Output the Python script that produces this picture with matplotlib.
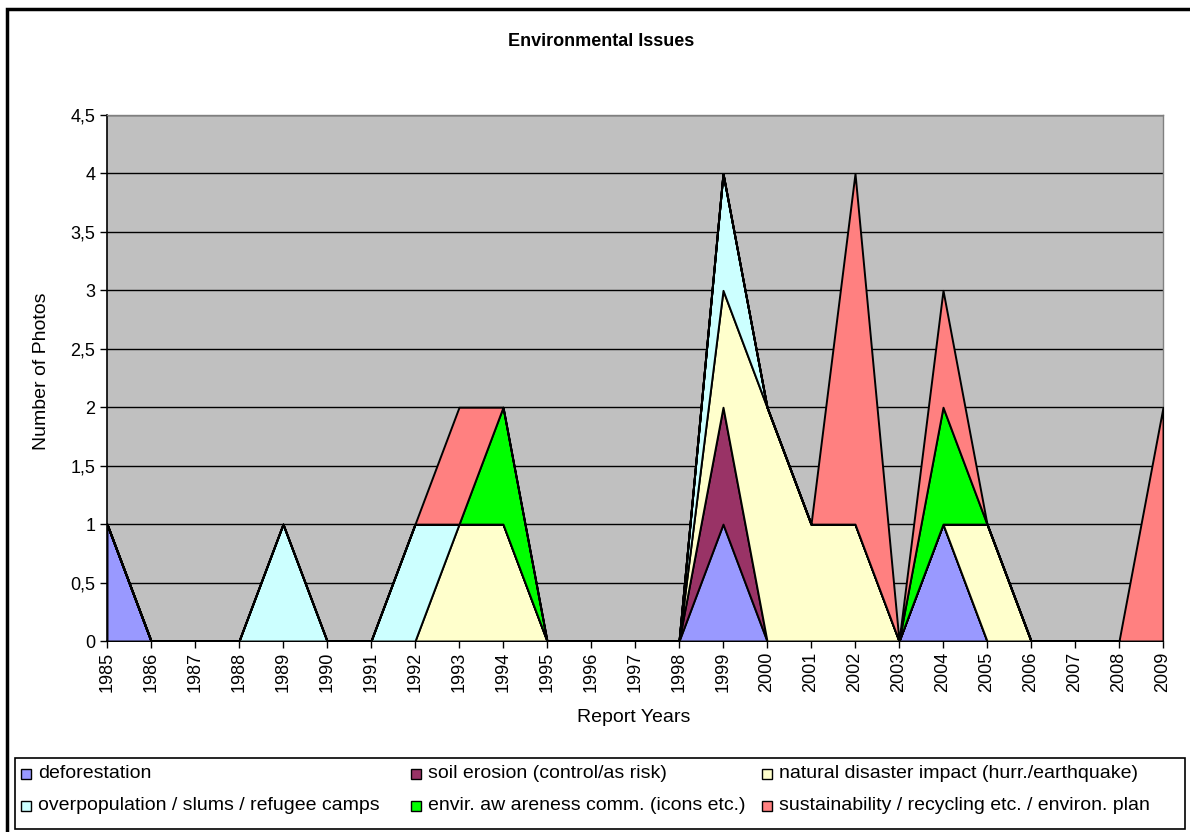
import matplotlib

matplotlib.use("Agg")
import matplotlib.pyplot as plt  # noqa: E402
from matplotlib.patches import Rectangle  # noqa: E402
from matplotlib.ticker import FuncFormatter, MultipleLocator  # noqa: E402

plt.rcParams["font.family"] = ["Liberation Sans", "DejaVu Sans"]

years = list(range(1985, 2010))

# photos per report year, one list per category (stack order bottom -> top)
deforestation = [1, 0, 0, 0, 0, 0, 0, 0, 0, 0, 0, 0, 0, 0, 1, 0, 0, 0, 0, 1, 0, 0, 0, 0, 0]
soil_erosion = [0, 0, 0, 0, 0, 0, 0, 0, 0, 0, 0, 0, 0, 0, 1, 0, 0, 0, 0, 0, 0, 0, 0, 0, 0]
natural_disaster = [0, 0, 0, 0, 0, 0, 0, 0, 1, 1, 0, 0, 0, 0, 1, 2, 1, 1, 0, 0, 1, 0, 0, 0, 0]
overpopulation = [0, 0, 0, 0, 1, 0, 0, 1, 0, 0, 0, 0, 0, 0, 1, 0, 0, 0, 0, 0, 0, 0, 0, 0, 0]
awareness = [0, 0, 0, 0, 0, 0, 0, 0, 0, 1, 0, 0, 0, 0, 0, 0, 0, 0, 0, 1, 0, 0, 0, 0, 0]
sustainability = [0, 0, 0, 0, 0, 0, 0, 0, 1, 0, 0, 0, 0, 0, 0, 0, 0, 3, 0, 1, 0, 0, 0, 0, 2]

series = [
    ("deforestation", deforestation, "#9999FF"),
    ("soil erosion (control/as risk)", soil_erosion, "#993366"),
    ("natural disaster impact (hurr./earthquake)", natural_disaster, "#FFFFCC"),
    ("overpopulation / slums / refugee camps", overpopulation, "#CCFFFF"),
    ("envir. aw areness comm. (icons etc.)", awareness, "#00FF00"),
    ("sustainability / recycling etc. / environ. plan", sustainability, "#FF8080"),
]

W, H = 1190, 832
fig = plt.figure(figsize=(W / 100, H / 100), dpi=100)
ax = fig.add_axes([107 / W, 1 - 641 / H, (1163 - 107) / W, (641 - 115) / H])
ax.set_facecolor("#C0C0C0")

ax.stackplot(
    years,
    [s[1] for s in series],
    colors=[s[2] for s in series],
    edgecolor="black",
    linewidth=1.4,
    zorder=3,
)

ax.set_xlim(1985, 2009)
ax.set_ylim(0, 4.5)
ax.yaxis.set_major_locator(MultipleLocator(0.5))
ax.yaxis.set_major_formatter(FuncFormatter(lambda v, _: f"{v:g}".replace(".", ",")))
ax.set_xticks(years)
ax.set_xticklabels([str(y) for y in years], rotation=90, fontsize=13)
ax.tick_params(axis="y", labelsize=13, direction="out", length=5, width=1)
ax.tick_params(axis="x", direction="out", length=5, width=1, pad=3)
ax.grid(axis="y", color="black", linewidth=1, zorder=1)
ax.set_axisbelow(True)

for side in ("left", "bottom"):
    ax.spines[side].set_color("black")
    ax.spines[side].set_linewidth(1.2)
for side in ("top", "right"):
    ax.spines[side].set_color("#808080")
    ax.spines[side].set_linewidth(1)

fig.text(601 / W, 1 - 42 / H, "Environmental Issues", ha="center", va="center",
         fontsize=13, fontweight="bold")
fig.text(42 / W, 1 - 371 / H, "Number of Photos", rotation=90, ha="center",
         va="center", fontsize=14)
fig.text(634 / W, 1 - 717 / H, "Report Years", ha="center", va="center",
         fontsize=14)

# outer chart border
fig.patches.append(Rectangle((7 / W, -0.01), 1.2, 1 - 9 / H + 0.01,
                             transform=fig.transFigure, fill=False,
                             edgecolor="black", linewidth=2.5))

# legend box, laid out in Excel style rows
fig.patches.append(Rectangle((15 / W, 1 - 829 / H), (1185 - 15) / W,
                             (829 - 758) / H, transform=fig.transFigure,
                             fill=False, edgecolor="black", linewidth=1.2))
col_x = [21, 411, 762]
row_y = [774, 806]
for i, (label, _, color) in enumerate(series):
    row, col = divmod(i, 3)
    x0 = col_x[col]
    y0 = row_y[row]
    fig.patches.append(Rectangle((x0 / W, 1 - (y0 + 5) / H), 10 / W, 10 / H,
                                 transform=fig.transFigure, facecolor=color,
                                 edgecolor="black", linewidth=1))
    fig.text((x0 + 17) / W, 1 - y0 / H, label, ha="left", va="center",
             fontsize=14)

fig.savefig("out.png", dpi=100)
